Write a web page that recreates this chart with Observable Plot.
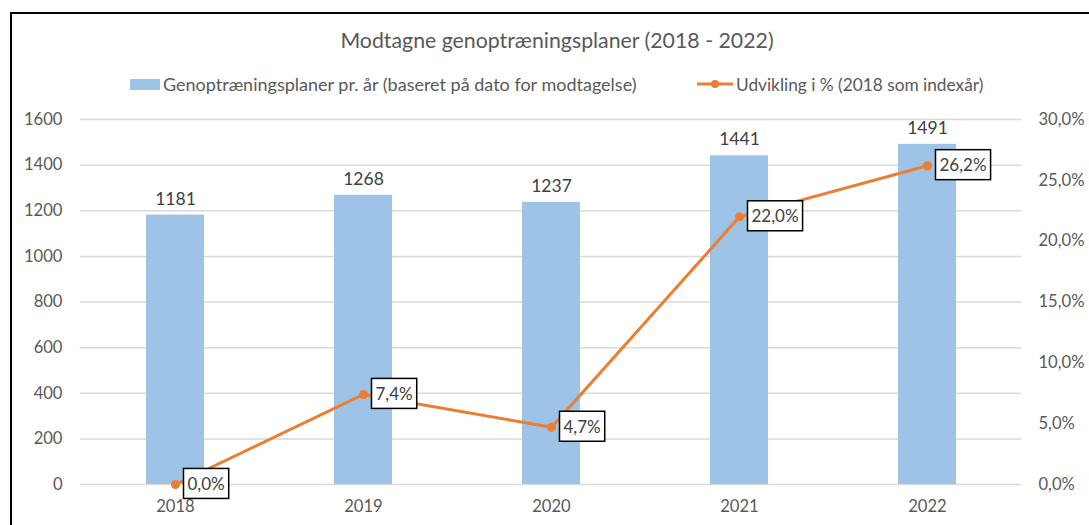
<!DOCTYPE html>
<html>
<head>
<meta charset="utf-8">
<script src="https://cdn.jsdelivr.net/npm/d3@7"></script>
<script src="https://cdn.jsdelivr.net/npm/@observablehq/plot@0.6"></script>
<style>
  html, body { margin: 0; padding: 0; background: #fff; }
  body { width: 1089px; height: 525px; overflow: hidden; position: relative; font-family: Lato, "Open Sans", sans-serif; }
  #frame { position: absolute; left: 10px; top: 12px; width: 1200px; height: 600px; border-left: 2px solid #000; border-top: 2px solid #000; box-shadow: 1px 1px 2px rgba(0,0,0,0.25); }
  #title { position: absolute; left: 0; width: 1114px; top: 27px; text-align: center; font-size: 21.3px; color: #595959; line-height: 26px; }
  .leg { position: absolute; top: 73px; height: 22px; display: flex; align-items: center; color: #595959; white-space: nowrap; }
  .sw { display: inline-block; width: 30px; height: 11px; background: #9DC3E6; margin-right: 3px; }
  #chart { position: absolute; left: 0; top: 100px; }
</style>
</head>
<body>
<div id="frame"></div>
<div id="title">Modtagne genoptræningsplaner (2018 - 2022)</div>
<div class="leg" style="left:130px; font-size:18px"><span class="sw"></span><span id="leg1"></span></div>
<div class="leg" style="left:697px; font-size:17.3px"><svg width="36" height="12" style="margin-right:3px"><line x1="0" y1="6" x2="36" y2="6" stroke="#ED7D31" stroke-width="3"/><circle cx="18" cy="6" r="4" fill="#ED7D31"/></svg><span id="leg2"></span></div>
<div id="chart"></div>
<script>
const years = ["2018", "2019", "2020", "2021", "2022"];
const plans = [1181, 1268, 1237, 1441, 1491];
const growthPct = [0.0, 7.4, 4.7, 22.0, 26.2];
const leftTicks = [0, 200, 400, 600, 800, 1000, 1200, 1400, 1600];
const rightTicks = [0, 5, 10, 15, 20, 25, 30];
const seriesNames = ["Genoptræningsplaner pr. år (baseret på dato for modtagelse)", "Udvikling i % (2018 som indexår)"];

document.getElementById("leg1").textContent = seriesNames[0];
document.getElementById("leg2").textContent = seriesNames[1];

const leftMax = 1600, rightMax = 30;
const toLeft = p => p * leftMax / rightMax;
const fmtPct = p => p.toFixed(1).replace(".", ",") + "%";
const labelInk = "#404041";

const data = years.map((y, i) => ({ year: y, plans: plans[i], growth: growthPct[i], g: toLeft(growthPct[i]) }));

const chart = Plot.plot({
  width: 1089,
  height: 425,
  marginTop: 19,
  marginBottom: 41,
  marginLeft: 80,
  marginRight: 68,
  x: { type: "band", domain: years, padding: 0, label: null },
  y: { domain: [0, leftMax], label: null },
  style: { fontFamily: "Lato, 'Open Sans', sans-serif", fontSize: "16.6px", color: "#595959", background: "transparent", overflow: "visible" },
  marks: [
    Plot.gridY(leftTicks, { stroke: "#d9d9d9", strokeOpacity: 1, strokeWidth: 1.5 }),
    Plot.barY(data, { x: "year", y: "plans", fill: "#9DC3E6", insetLeft: 65, insetRight: 65 }),
    Plot.text(data, { x: "year", y: "plans", text: d => String(d.plans), dy: -16, fill: "#404040", fontSize: 17.5 }),
    Plot.lineY(data, { x: "year", y: "g", stroke: "#ED7D31", strokeWidth: 3 }),
    Plot.dot(data, { x: "year", y: "g", r: 4.5, fill: "#ED7D31", stroke: "none" }),
    Plot.text(data, { x: "year", y: "g", text: d => fmtPct(d.growth), textAnchor: "start", dx: 12, fill: labelInk, fontSize: 17 }),
    Plot.axisY(leftTicks, { anchor: "left", tickSize: 0, tickPadding: 18, label: null, fill: "#595959", tickFormat: d => String(d) }),
    Plot.axisY(rightTicks.map(toLeft), { anchor: "right", tickSize: 0, tickPadding: 17, tickFormat: v => fmtPct(v * rightMax / leftMax), label: null, fill: "#595959" }),
    Plot.axisX({ tickSize: 0, tickPadding: 16, label: null, fill: "#595959" })
  ]
});
document.getElementById("chart").appendChild(chart);

// boxes behind the percentage labels
const svgNS = "http://www.w3.org/2000/svg";
const labelTexts = Array.from(chart.querySelectorAll("text")).filter(t => {
  const f = t.getAttribute("fill") || (t.parentNode && t.parentNode.getAttribute && t.parentNode.getAttribute("fill"));
  return f === labelInk;
});
labelTexts.forEach(t => {
  const b = t.getBBox();
  const r = document.createElementNS(svgNS, "rect");
  r.setAttribute("x", b.x - 4);
  r.setAttribute("y", b.y - 4.5);
  r.setAttribute("width", b.width + 8);
  r.setAttribute("height", b.height + 9);
  r.setAttribute("fill", "#fff");
  r.setAttribute("stroke", "#000");
  r.setAttribute("stroke-width", 1.5);
  if (t.getAttribute("transform")) r.setAttribute("transform", t.getAttribute("transform"));
  t.parentNode.insertBefore(r, t);
});
</script>
</body>
</html>
